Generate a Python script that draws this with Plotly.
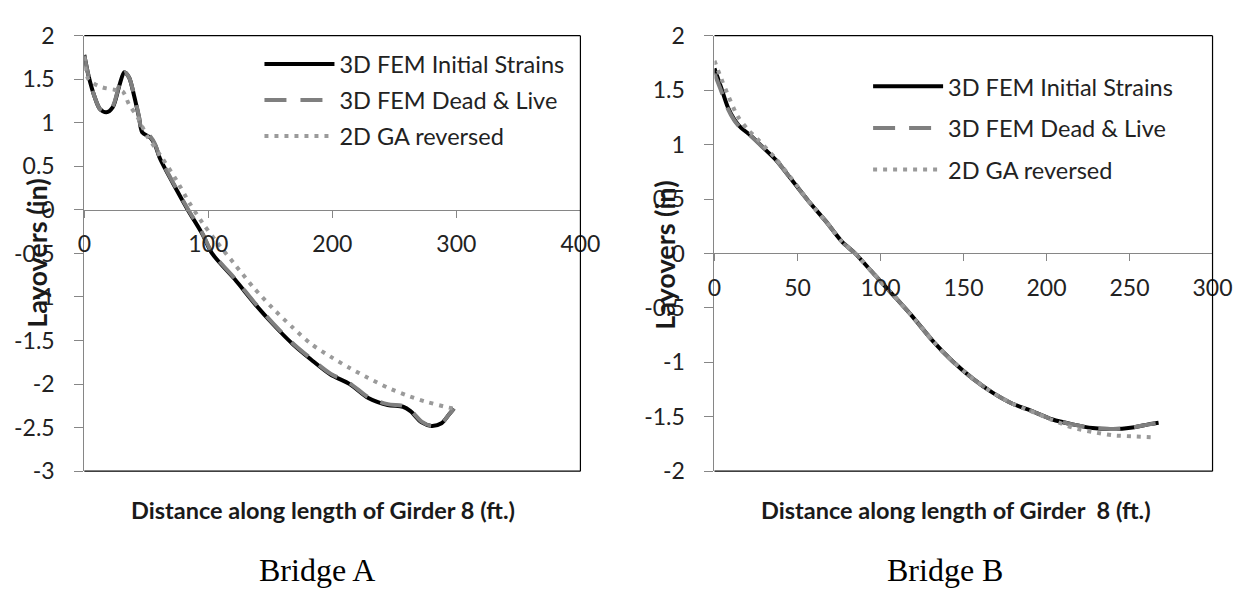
import plotly.graph_objects as go

# ---------------- Data: Bridge A ----------------
a_fem_x = [0, 3.4, 8.5, 12.5, 17.7, 23, 28.3, 32.2, 36.1, 40, 44, 46.7, 53.3, 57.2, 61, 71.7, 83.5,
           95.3, 103, 121.5, 137, 152, 168, 183, 198.5, 214, 229, 244.6, 257, 263, 272, 280, 288, 294, 298]
a_fem_y = [1.78, 1.54, 1.29, 1.16, 1.12, 1.18, 1.43, 1.58, 1.52, 1.32, 1.07, 0.89, 0.83, 0.74, 0.59, 0.30, 0.00,
           -0.28, -0.50, -0.80, -1.07, -1.31, -1.54, -1.72, -1.89, -2.00, -2.16, -2.24, -2.26, -2.31, -2.44, -2.48, -2.45, -2.35, -2.28]
a_dl_x = [0, 3.4, 8.5, 12.5, 17.7, 23, 28.3, 32.2, 36.1, 40, 44, 46.7, 53.3, 57.2, 61, 71.7, 83.5,
          95.3, 103, 121.5, 137, 152, 168, 183, 198.5, 214, 229, 244.6, 257, 263, 272, 280, 288, 294, 298]
a_dl_y = [1.77, 1.54, 1.29, 1.16, 1.12, 1.19, 1.44, 1.58, 1.52, 1.33, 1.08, 0.90, 0.84, 0.75, 0.60, 0.31, 0.01,
          -0.27, -0.49, -0.79, -1.06, -1.30, -1.53, -1.71, -1.88, -1.99, -2.15, -2.23, -2.25, -2.30, -2.43, -2.48, -2.45, -2.35, -2.28]
a_ga_x = [0, 3.3, 13.8, 24.3, 30.9, 36.1, 42.7, 50.6, 61.2, 74.3, 84.8, 95.3, 105.8, 121, 137, 152,
          168, 183, 198.5, 214, 229, 244.6, 260, 275, 294, 298]
a_ga_y = [1.76, 1.50, 1.41, 1.38, 1.36, 1.21, 1.07, 0.85, 0.63, 0.34, 0.08, -0.15, -0.35, -0.62, -0.90, -1.13,
          -1.35, -1.54, -1.685, -1.815, -1.93, -2.04, -2.13, -2.20, -2.27, -2.28]

# ---------------- Data: Bridge B ----------------
b_fem_x = [0, 4.1, 8, 12, 15.9, 21.8, 29.7, 37.5, 47.3, 57.2, 67, 76.8, 84.7, 96.5, 107.2, 119.3, 131.3,
           143.4, 155.4, 167.5, 179.5, 191.6, 203.6, 215.7, 227.7, 239.8, 251.8, 261.4, 267.5]
b_fem_y = [1.70, 1.52, 1.345, 1.23, 1.156, 1.083, 0.967, 0.85, 0.66, 0.47, 0.297, 0.108, 0.0, -0.197, -0.375,
           -0.58, -0.80, -0.99, -1.147, -1.278, -1.38, -1.45, -1.525, -1.57, -1.604, -1.613, -1.598, -1.57, -1.555]
b_dl_x = [0, 4.1, 8, 12, 15.9, 21.8, 29.7, 37.5, 47.3, 57.2, 67, 76.8, 84.7, 96.5, 107.2, 119.3, 131.3,
          143.4, 155.4, 167.5, 179.5, 191.6, 203.6, 215.7, 227.7, 239.8, 251.8, 261.4, 267.5]
b_dl_y = [1.65, 1.49, 1.33, 1.22, 1.15, 1.08, 0.965, 0.85, 0.66, 0.47, 0.297, 0.108, 0.0, -0.197, -0.375,
          -0.58, -0.80, -0.99, -1.147, -1.278, -1.38, -1.45, -1.525, -1.57, -1.604, -1.613, -1.598, -1.57, -1.555]
b_ga_x = [0, 4, 8, 14, 20, 26, 37.5, 47.3, 57.2, 67, 76.8, 84.7, 96.5, 107.2, 119.3, 131.3, 143.4, 155.4,
          167.5, 179.5, 191.6, 203.6, 215.7, 227.7, 239.8, 251.8, 266]
b_ga_y = [1.77, 1.61, 1.46, 1.26, 1.14, 1.05, 0.86, 0.67, 0.47, 0.297, 0.108, 0.0, -0.197, -0.375, -0.58,
          -0.80, -0.99, -1.147, -1.278, -1.38, -1.455, -1.53, -1.60, -1.64, -1.67, -1.68, -1.69]

series_names = ["3D FEM Initial Strains", "3D FEM Dead & Live", "2D GA reversed"]
x_titles = ["Distance along length of Girder 8 (ft.)", "Distance along length of Girder  8 (ft.)"]
y_title = "Layovers (in)"
panel_titles = ["Bridge A", "Bridge B"]

# tick values / labels (Excel style hyphen minus)
a_xticks = [0, 100, 200, 300, 400]
b_xticks = [0, 50, 100, 150, 200, 250, 300]
a_yticks = [2, 1.5, 1, 0.5, 0, -0.5, -1, -1.5, -2, -2.5, -3]
a_ylabels = ["2", "1.5", "1", "0.5", "0", "-0.5", "-1", "-1.5", "-2", "-2.5", "-3"]
b_yticks = [2, 1.5, 1, 0.5, 0, -0.5, -1, -1.5, -2]
b_ylabels = ["2", "1.5", "1", "0.5", "0", "-0.5", "-1", "-1.5", "-2"]

# ---------------- Layout geometry ----------------
W, H = 1257, 601
TOP_PX, BOT_PX = 21.7, 478.5
yd = [1 - BOT_PX / H, 1 - TOP_PX / H]
xd1 = [79 / W, 586 / W]
xd2 = [723 / W, 1232 / W]
yr1 = [-3, 2]
yr2 = [-2, 2]
pos1 = yd[0] + (0 - yr1[0]) / (yr1[1] - yr1[0]) * (yd[1] - yd[0])
pos2 = yd[0] + (0 - yr2[0]) / (yr2[1] - yr2[0]) * (yd[1] - yd[0])

TICK_FONT = dict(family="Lato, 'Open Sans', sans-serif", size=23, color="#222222")
LEG_FONT = dict(family="Lato, 'Open Sans', sans-serif", size=23.5, color="#222222")
XTITLE_FONT = dict(family="Lato, 'Open Sans', sans-serif", size=23.5, color="#1a1a1a", weight="bold")
YTITLE_FONT = dict(family="Lato, 'Open Sans', sans-serif", size=27, color="#1a1a1a", weight="bold")

styles = [
    dict(color="#000000", width=4),
    dict(color="#7f7f7f", width=4, dash="22px,14px"),
    dict(color="#9a9a9a", width=4, dash="4px,6px"),
]

fig = go.Figure()
panels = [
    (a_fem_x, a_fem_y, a_dl_x, a_dl_y, a_ga_x, a_ga_y, "x", "y", "legend"),
    (b_fem_x, b_fem_y, b_dl_x, b_dl_y, b_ga_x, b_ga_y, "x2", "y2", "legend2"),
]
for p, (fx, fy, dx, dy, gx, gy, xa, ya, lg) in enumerate(panels):
    for i, (sx, sy) in enumerate([(fx, fy), (dx, dy), (gx, gy)]):
        fig.add_trace(go.Scatter(
            x=sx, y=sy, mode="lines", name=series_names[i],
            line=dict(shape="spline", smoothing=0.8, **styles[i]),
            xaxis=xa, yaxis=ya, legend=lg, legendgroup=f"{p}-{i}",
        ))

axis_common = dict(showgrid=False, zeroline=False, showline=True, linecolor="#868686",
                   linewidth=1, ticks="outside", tickcolor="#868686", tickfont=TICK_FONT)

fig.update_layout(
    width=W, height=H, margin=dict(l=0, r=0, t=0, b=0),
    paper_bgcolor="white", plot_bgcolor="white", showlegend=True,
    xaxis=dict(domain=xd1, range=[0, 400], tickvals=a_xticks, ticktext=[str(v) for v in a_xticks],
               anchor="free", position=pos1, ticklen=7, ticklabelstandoff=7, **axis_common),
    yaxis=dict(domain=yd, range=yr1, tickvals=a_yticks, ticktext=a_ylabels, anchor="x", ticklen=9,
               ticklabelstandoff=15, **axis_common),
    xaxis2=dict(domain=xd2, range=[0, 300], tickvals=b_xticks, ticktext=[str(v) for v in b_xticks],
                anchor="free", position=pos2, ticklen=7, ticklabelstandoff=7, **axis_common),
    yaxis2=dict(domain=yd, range=yr2, tickvals=b_yticks, ticktext=b_ylabels, anchor="x2", ticklen=9,
                ticklabelstandoff=15, **axis_common),
    legend=dict(x=258 / W, y=1 - 28.5 / H, xanchor="left", yanchor="top", font=LEG_FONT,
                bgcolor="rgba(0,0,0,0)", itemwidth=70, traceorder="grouped", tracegroupgap=2.5),
    legend2=dict(x=880 / W, y=1 - 52 / H, xanchor="left", yanchor="top", font=LEG_FONT,
                 bgcolor="rgba(0,0,0,0)", itemwidth=70, traceorder="grouped", tracegroupgap=8),
)

# plot-area borders (top, right, bottom)
for xr, yr in (("x domain", "y domain"), ("x2 domain", "y2 domain")):
    for (x0, y0, x1, y1) in ((0, 1, 1, 1), (1, 0, 1, 1), (0, 0, 1, 0)):
        fig.add_shape(type="line", xref=xr, yref=yr, x0=x0, y0=y0, x1=x1, y1=y1,
                      line=dict(color="#000000", width=1.2), layer="above")

annos = [
    dict(x=30 / W, y=1 - 250 / H, text=y_title, textangle=-90, font=YTITLE_FONT),
    dict(x=672 / W, y=1 - 252 / H, text=y_title, textangle=-90, font=YTITLE_FONT),
    dict(x=323 / W, y=1 - 519 / H, text=x_titles[0], font=XTITLE_FONT),
    dict(x=970 / W, y=1 - 519 / H, text=x_titles[1], font=XTITLE_FONT),
]
for a in annos:
    fig.add_annotation(xref="paper", yref="paper", showarrow=False, xanchor="center",
                       yanchor="middle", **a)
for t, cx in zip(panel_titles, (317, 959)):
    fig.add_annotation(xref="paper", yref="paper", x=cx / W, y=1 - 582 / H, text=t, showarrow=False,
                       xanchor="center", yanchor="middle",
                       font=dict(family="'Liberation Serif', 'Times New Roman', serif", size=32, color="#000"))

fig.write_html("out.html")
